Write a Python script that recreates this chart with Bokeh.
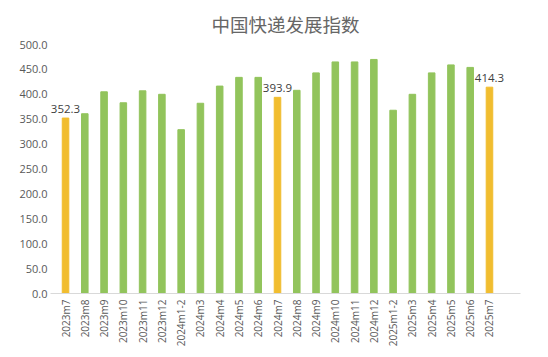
import math
from bokeh.plotting import figure
from bokeh.models import ColumnDataSource, FixedTicker, NumeralTickFormatter, LabelSet, Range1d
from bokeh.core.properties import value
from bokeh.embed import file_html
from bokeh.resources import INLINE

categories = ["2023m7", "2023m8", "2023m9", "2023m10", "2023m11", "2023m12",
              "2024m1-2", "2024m3", "2024m4", "2024m5", "2024m6", "2024m7",
              "2024m8", "2024m9", "2024m10", "2024m11", "2024m12",
              "2025m1-2", "2025m3", "2025m4", "2025m5", "2025m6", "2025m7"]
values = [352.3, 361.0, 405.0, 383.0, 407.0, 400.0,
          329.0, 382.0, 416.5, 434.0, 434.0, 393.9,
          408.0, 443.0, 465.0, 465.0, 470.0,
          368.0, 400.0, 443.0, 459.0, 454.0, 414.3]
highlight = ["2023m7", "2024m7", "2025m7"]
title_text = "中国快递发展指数"
y_ticks = [0, 50, 100, 150, 200, 250, 300, 350, 400, 450, 500]

GREEN = "#92c45c"
YELLOW = "#f1bd2f"
TXT = "#595959"

xs = list(range(len(categories)))
colors = [YELLOW if c in highlight else GREEN for c in categories]
src = ColumnDataSource(dict(x=xs, top=values, color=colors))

hx = [i for i, c in enumerate(categories) if c in highlight]
hv = [values[i] for i in hx]
lab_src = ColumnDataSource(dict(x=hx, y=hv, t=["%.1f" % v for v in hv]))

p = figure(width=532, height=349, output_backend="svg", toolbar_location=None,
           x_range=Range1d(-0.78, 23.61), y_range=Range1d(0, 500),
           min_border_left=50, min_border_right=12, min_border_top=44, min_border_bottom=55)
p.outline_line_color = None
p.background_fill_color = "white"
p.border_fill_color = "white"
p.xgrid.grid_line_color = None
p.ygrid.grid_line_color = None

p.title.text = title_text
p.title.align = "center"
p.title.text_font_size = "18.5px"
p.title.text_font = "Noto Sans CJK SC"
p.title.text_font_style = "normal"
p.title.text_color = "#666666"
p.title.standoff = 16

p.vbar(x="x", top="top", width=0.34, bottom=0, color="color", source=src)
p.add_layout(LabelSet(x="x", y="y", text="t", source=lab_src, text_align="center",
                      text_baseline="bottom", y_offset=5, text_font_size=value("11.5px"),
                      text_color="#404040", text_font=value("Open Sans")))

p.xaxis.ticker = FixedTicker(ticks=xs)
p.xaxis.major_label_overrides = {i: c for i, c in enumerate(categories)}
p.xaxis.major_label_orientation = math.pi / 2
p.xaxis.major_tick_line_color = None
p.xaxis.minor_tick_line_color = None
p.xaxis.major_tick_out = 0
p.xaxis.major_label_standoff = 6
p.xaxis.axis_line_color = "#d9d9d9"
p.xaxis.major_label_text_font_size = "10px"
p.xaxis.major_label_text_color = TXT
p.xaxis.major_label_text_font = "Open Sans"

p.yaxis.ticker = FixedTicker(ticks=y_ticks)
p.yaxis.formatter = NumeralTickFormatter(format="0.0")
p.yaxis.axis_line_color = None
p.yaxis.major_tick_line_color = None
p.yaxis.minor_tick_line_color = None
p.yaxis.major_tick_out = 0
p.yaxis.major_label_standoff = 3
p.yaxis.major_label_text_font_size = "11px"
p.yaxis.major_label_text_color = TXT
p.yaxis.major_label_text_font = "Open Sans"

open("out.html", "w").write(file_html(p, INLINE))
